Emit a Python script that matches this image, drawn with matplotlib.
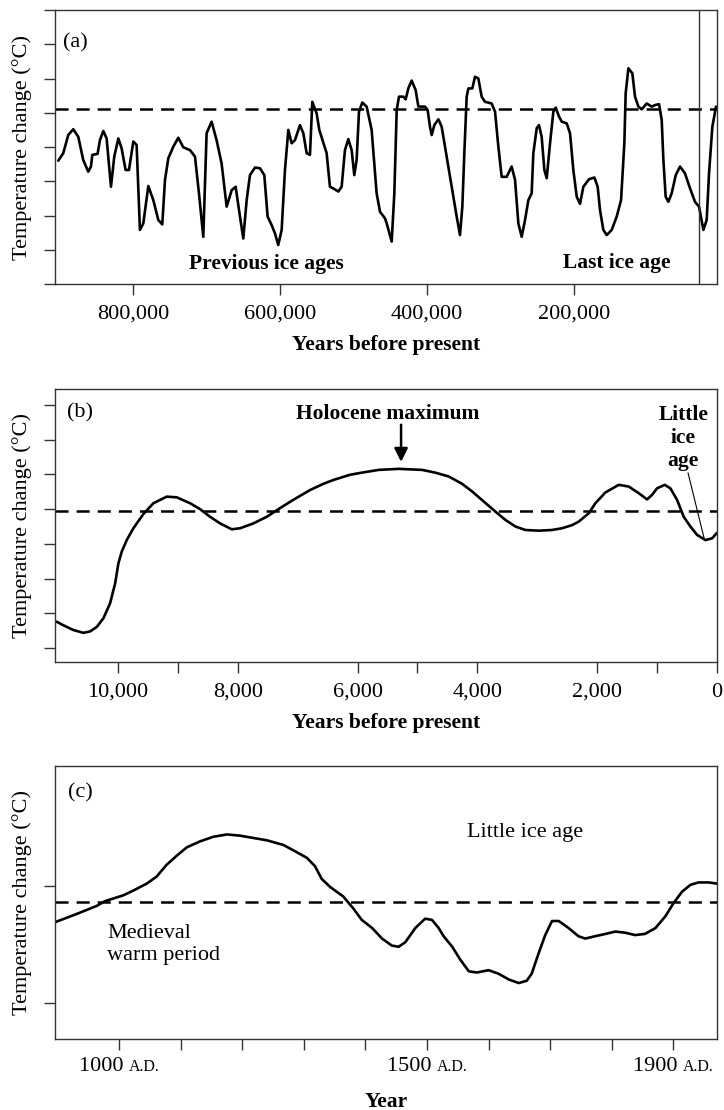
"""
Three-panel temperature history figure:
(a) last ~900,000 years, (b) last ~11,000 years, (c) last ~1,000 years.
"""
import matplotlib
matplotlib.use('Agg')
import matplotlib.pyplot as plt
from matplotlib.offsetbox import TextArea, HPacker, AnnotationBbox

plt.rcParams['font.family'] = ['Liberation Serif', 'DejaVu Serif']
plt.rcParams['lines.scale_dashes'] = False

# ---------------------------------------------------------------------------
# Data (temperature in arbitrary tick units)
# ---------------------------------------------------------------------------
# (a) thousands of years before present
a_kyr = [901.6, 894.8, 888.0, 881.2, 874.4, 867.6, 860.8, 857.1, 855.3, 848.1,
         844.9, 840.3, 835.8, 829.9, 825.4, 819.9, 815.4, 810.0, 805.4, 799.5,
         795.0, 790.5, 785.9, 779.1, 772.3, 765.5, 760.1, 756.4, 751.9, 745.1,
         738.3, 731.5, 722.4, 715.6, 710.2, 704.3, 699.8, 693.0, 686.2, 679.4,
         672.5, 665.7, 660.3, 654.4, 649.9, 645.3, 640.8, 634.0, 627.2, 621.3,
         616.8, 611.3, 606.8, 602.3, 597.7, 593.2, 588.6, 584.1, 579.6, 572.8,
         568.2, 563.7, 559.2, 556.0, 550.1, 546.5, 536.5, 532.0, 527.4, 520.6,
         516.1, 511.6, 507.0, 502.5, 498.9, 495.7, 492.5, 488.0, 482.1, 475.3,
         468.5, 463.9, 457.2, 454.8, 448.0, 444.4, 441.2, 438.1, 432.2, 429.0,
         425.4, 420.8, 415.4, 411.7, 406.3, 402.7, 399.1, 395.9, 393.6, 390.0,
         384.5, 380.0, 373.2, 366.4, 359.6, 355.1, 351.9, 349.2, 346.0, 343.7,
         338.3, 334.7, 330.1, 325.6, 321.1, 312.0, 307.4, 302.9, 298.4, 291.6,
         284.8, 280.2, 275.7, 271.2, 266.6, 262.1, 257.6, 255.3, 250.7, 247.6,
         244.0, 240.3, 237.1, 232.6, 228.1, 224.9, 220.4, 216.7, 209.9, 205.4,
         200.9, 196.3, 191.8, 187.3, 179.6, 172.3, 167.8, 164.6, 160.1, 155.5,
         148.7, 141.9, 136.0, 131.5, 129.7, 126.0, 120.6, 117.0, 112.4, 107.9,
         101.1, 94.3, 88.9, 84.3, 80.7, 78.4, 75.3, 71.6, 67.1, 61.6,
         55.8, 49.0, 42.1, 35.4, 29.9, 24.0, 19.5, 16.3, 11.8, 6.8]
a_temp = [3.60, 3.82, 4.35, 4.52, 4.30, 3.62, 3.28, 3.43, 3.77, 3.80,
          4.20, 4.47, 4.25, 2.84, 3.72, 4.25, 3.96, 3.33, 3.33, 4.16,
          4.06, 1.58, 1.77, 2.86, 2.45, 1.87, 1.74, 3.04, 3.67, 4.01,
          4.27, 3.99, 3.91, 3.72, 2.65, 1.38, 4.40, 4.74, 4.20, 3.52,
          2.26, 2.74, 2.84, 1.97, 1.33, 2.45, 3.18, 3.40, 3.38, 3.18,
          1.97, 1.72, 1.48, 1.14, 1.58, 3.33, 4.50, 4.11, 4.20, 4.64,
          4.40, 3.82, 3.77, 5.32, 4.98, 4.50, 3.82, 2.84, 2.79, 2.70,
          2.84, 3.91, 4.23, 3.91, 3.18, 3.62, 5.03, 5.30, 5.18, 4.50,
          2.65, 2.11, 1.92, 1.77, 1.24, 2.65, 5.08, 5.47, 5.47, 5.39,
          5.71, 5.94, 5.66, 5.18, 5.18, 5.18, 5.08, 4.59, 4.35, 4.64,
          4.81, 4.59, 3.72, 2.84, 1.97, 1.43, 2.26, 3.82, 5.47, 5.71,
          5.71, 6.05, 6.00, 5.47, 5.32, 5.27, 5.03, 4.01, 3.13, 3.13,
          3.43, 3.04, 1.77, 1.38, 1.87, 2.45, 2.65, 3.82, 4.55, 4.64,
          4.30, 3.33, 3.09, 4.11, 5.03, 5.15, 4.89, 4.74, 4.69, 4.40,
          3.33, 2.55, 2.34, 2.84, 3.06, 3.11, 2.84, 2.16, 1.58, 1.43,
          1.58, 1.97, 2.45, 4.11, 5.57, 6.30, 6.15, 5.47, 5.18, 5.10,
          5.27, 5.18, 5.23, 5.25, 4.79, 3.62, 2.55, 2.40, 2.65, 3.18,
          3.43, 3.23, 2.79, 2.40, 2.26, 1.58, 1.87, 3.23, 4.59, 5.18]
a_xticks = [800, 600, 400, 200]
a_baseline = 5.11
a_last_ice_age_end = 30

# (b) years before present
b_years = [11021, 10937, 10854, 10743, 10576, 10465, 10353, 10242, 10131, 10047,
           9992, 9936, 9853, 9742, 9575, 9408, 9185, 9018, 8796, 8629,
           8462, 8295, 8100, 7961, 7739, 7516, 7294, 7071, 6793, 6570,
           6403, 6125, 5930, 5647, 5313, 4924, 4701, 4478, 4256, 4089,
           3894, 3700, 3533, 3366, 3199, 2976, 2754, 2587, 2420, 2309,
           2142, 2031, 1864, 1641, 1474, 1307, 1168, 1085, 1001, 873,
           779, 668, 556, 445, 334, 195, 83, 0]
b_temp = [0.76, 0.68, 0.61, 0.52, 0.44, 0.48, 0.61, 0.86, 1.29, 1.86,
          2.44, 2.78, 3.11, 3.45, 3.86, 4.17, 4.36, 4.34, 4.17, 4.00,
          3.78, 3.59, 3.42, 3.45, 3.59, 3.78, 4.03, 4.27, 4.55, 4.73,
          4.84, 4.99, 5.05, 5.13, 5.16, 5.13, 5.05, 4.94, 4.73, 4.51,
          4.22, 3.93, 3.69, 3.50, 3.40, 3.38, 3.40, 3.45, 3.54, 3.64,
          3.88, 4.17, 4.48, 4.70, 4.65, 4.46, 4.28, 4.41, 4.60, 4.70,
          4.60, 4.27, 3.78, 3.50, 3.26, 3.11, 3.16, 3.32]
b_xticks = [10000, 9000, 8000, 6000, 5000, 4000, 2000, 1000, 0]
b_xticklabels = ['10,000', '', '8,000', '6,000', '', '4,000', '2,000', '', '0']
b_baseline = 3.95
b_holocene_max = (5274, 5.36, 6.43)          # x, arrow tip, arrow tail
b_lia_pointer = ([484, 217], [5.04, 3.17])

# (c) calendar year A.D.
c_years = [896, 931, 964, 977, 1007, 1023, 1045, 1061, 1077, 1094,
           1110, 1131, 1153, 1175, 1196, 1218, 1240, 1267, 1288, 1305,
           1318, 1329, 1343, 1364, 1380, 1394, 1411, 1427, 1443, 1454,
           1465, 1481, 1497, 1508, 1519, 1527, 1541, 1554, 1568, 1581,
           1600, 1616, 1633, 1649, 1662, 1670, 1681, 1692, 1703, 1714,
           1730, 1746, 1757, 1773, 1790, 1806, 1822, 1838, 1854, 1871,
           1887, 1900, 1914, 1928, 1941, 1957, 1971]
c_temp = [0.69, 0.76, 0.83, 0.87, 0.92, 0.96, 1.02, 1.08, 1.18, 1.26,
          1.33, 1.38, 1.42, 1.44, 1.43, 1.41, 1.39, 1.35, 1.29, 1.24,
          1.17, 1.06, 0.99, 0.91, 0.81, 0.71, 0.64, 0.55, 0.49, 0.48,
          0.52, 0.64, 0.72, 0.71, 0.64, 0.57, 0.48, 0.37, 0.27, 0.26,
          0.28, 0.25, 0.20, 0.17, 0.19, 0.25, 0.42, 0.58, 0.70, 0.70,
          0.64, 0.57, 0.55, 0.57, 0.59, 0.61, 0.60, 0.58, 0.59, 0.64,
          0.74, 0.85, 0.95, 1.01, 1.03, 1.03, 1.02]
c_xticks = list(range(1000, 2000, 100))
c_labelled_years = [1000, 1500, 1900]
c_baseline = 0.863

SPINE = '#333333'
TICK_SIZE = 16
LABEL_SIZE = 15.5
YLABEL = 'Temperature change (°C)'


def style_axes(ax):
    for s in ax.spines.values():
        s.set_color(SPINE)
        s.set_linewidth(1.0)
    ax.tick_params(direction='out', length=8, width=1.0, color=SPINE,
                   labelsize=TICK_SIZE, pad=7)
    ax.tick_params(axis='y', labelleft=False)
    ax.set_ylabel(YLABEL, fontsize=16)
    ax.yaxis.label.set_va('center')
    ax.yaxis.set_label_coords(-0.05, 0.5)


def draw_curve(ax, x, y, baseline):
    ax.plot(x, y, color='black', lw=1.9, solid_joinstyle='round',
            solid_capstyle='round')
    ax.axhline(baseline, color='black', lw=1.8, dashes=(9.4, 5.8))


def set_xlabel(ax, text, y):
    ax.set_xlabel(text, fontsize=LABEL_SIZE, fontweight='bold')
    ax.xaxis.label.set_va('center')
    ax.xaxis.set_label_coords(0.5, y)


fig = plt.figure(figsize=(7.24, 11.1), dpi=100)
ax_a = fig.add_axes([0.0760, 0.7441, 0.9144, 0.2469])
ax_b = fig.add_axes([0.0760, 0.4036, 0.9144, 0.2460])
ax_c = fig.add_axes([0.0760, 0.0640, 0.9144, 0.2460])

# ---------------- (a) ----------------
style_axes(ax_a)
draw_curve(ax_a, a_kyr, a_temp, a_baseline)
ax_a.axvline(a_last_ice_age_end, color=SPINE, lw=1.0)
ax_a.set_xlim(906, 5.4)
ax_a.set_ylim(0, 8)
ax_a.set_yticks(range(0, 9))
ax_a.set_xticks(a_xticks)
ax_a.set_xticklabels([f'{k * 1000:,}' for k in a_xticks])
set_xlabel(ax_a, 'Years before present', -0.223)
ax_a.text(0.012, 0.88, '(a)', transform=ax_a.transAxes, fontsize=16,
          ha='left', va='center')
ax_a.text(0.320, 0.073, 'Previous ice ages', transform=ax_a.transAxes,
          fontsize=LABEL_SIZE, fontweight='bold', ha='center', va='center')
ax_a.text(0.849, 0.077, 'Last ice age', transform=ax_a.transAxes,
          fontsize=LABEL_SIZE, fontweight='bold', ha='center', va='center')

# ---------------- (b) ----------------
style_axes(ax_b)
draw_curve(ax_b, b_years, b_temp, b_baseline)
ax_b.set_xlim(11050, 0)
ax_b.set_ylim(-0.40, 7.46)
ax_b.set_yticks(range(0, 8))
ax_b.set_xticks(b_xticks)
ax_b.set_xticklabels(b_xticklabels)
set_xlabel(ax_b, 'Years before present', -0.223)
ax_b.text(0.018, 0.912, '(b)', transform=ax_b.transAxes, fontsize=16,
          ha='left', va='center')
hx, tip, tail = b_holocene_max
ax_b.annotate('', xy=(hx, tip), xytext=(hx, tail),
              arrowprops=dict(arrowstyle='-|>', color='black', lw=1.8,
                              mutation_scale=20, shrinkA=0, shrinkB=0))
ax_b.text(0.503, 0.908, 'Holocene maximum', transform=ax_b.transAxes,
          fontsize=LABEL_SIZE, fontweight='bold', ha='center', va='center')
ax_b.text(0.949, 0.82, 'Little\nice\nage', transform=ax_b.transAxes,
          fontsize=LABEL_SIZE, fontweight='bold', ha='center', va='center',
          linespacing=1.2)
ax_b.plot(*b_lia_pointer, color='black', lw=0.8)

# ---------------- (c) ----------------
style_axes(ax_c)
draw_curve(ax_c, c_years, c_temp, c_baseline)
ax_c.set_xlim(896, 1971)
ax_c.set_ylim(-0.308, 2.026)
ax_c.set_yticks([0, 1])
ax_c.set_xticks(c_xticks)
ax_c.set_xticklabels([])
for yr in c_labelled_years:
    box = HPacker(children=[TextArea(f'{yr} ', textprops=dict(size=TICK_SIZE)),
                            TextArea('A.D.', textprops=dict(size=11.5))],
                  align='baseline', pad=0, sep=0)
    ab = AnnotationBbox(box, (yr, 0), xycoords=ax_c.get_xaxis_transform(),
                        xybox=(0, -13), boxcoords='offset points',
                        box_alignment=(0.5, 1.0), frameon=False, pad=0)
    ax_c.add_artist(ab)
set_xlabel(ax_c, 'Year', -0.231)
ax_c.text(0.019, 0.901, '(c)', transform=ax_c.transAxes, fontsize=16,
          ha='left', va='center')
ax_c.text(0.0785, 0.346, 'Medieval\nwarm period', transform=ax_c.transAxes,
          fontsize=16, ha='left', va='center', linespacing=1.2)
ax_c.text(0.71, 0.755, 'Little ice age', transform=ax_c.transAxes,
          fontsize=16, ha='center', va='center')

fig.savefig('out.png', dpi=100)
